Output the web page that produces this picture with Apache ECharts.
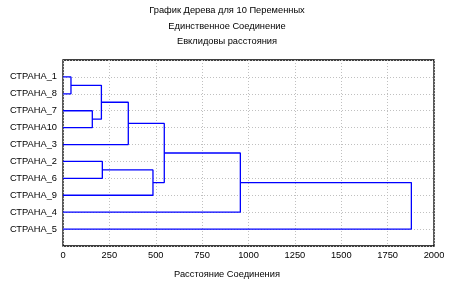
<!DOCTYPE html>
<html><head><meta charset="utf-8">
<script src="https://cdn.jsdelivr.net/npm/echarts@6/dist/echarts.min.js"></script>
<style>html,body{margin:0;padding:0;background:#fff}#c{width:454px;height:287px}</style>
</head><body><div id="c"></div>
<script>
const titleLines = ['График Дерева для 10 Переменных', 'Единственное Соединение', 'Евклидовы расстояния'];
const xAxisName = 'Расстояние Соединения';
const leaves = ['СТРАНА_1','СТРАНА_8','СТРАНА_7','СТРАНА10','СТРАНА_3','СТРАНА_2','СТРАНА_6','СТРАНА_9','СТРАНА_4','СТРАНА_5'];
// merges: [childA, childB, distance]; children: 'L<i>' leaf index or 'M<j>' merge index
const mergeA = ['L0','L2','M0','M2','L5','M4','M3','M6','M7'];
const mergeB = ['L1','L3','M1','L4','L6','L7','M5','L8','L9'];
const mergeDist = [43, 158, 207, 352, 212, 485, 546, 956, 1878];
const xTicks = [0, 250, 500, 750, 1000, 1250, 1500, 1750, 2000];

const font = 'Liberation Sans, Arial, sans-serif';
const fs = 9.3;
const pos = {}; const hgt = {};
leaves.forEach((n, i) => { pos['L' + i] = i + 1; hgt['L' + i] = 0; });
const series = [];
mergeDist.forEach((d, j) => {
  const a = mergeA[j], b = mergeB[j];
  pos['M' + j] = (pos[a] + pos[b]) / 2; hgt['M' + j] = d;
  series.push({
    type: 'line', silent: true, showSymbol: false, animation: false,
    lineStyle: { color: '#0000ff', width: 1.3 },
    data: [[hgt[a], pos[a]], [d, pos[a]], [d, pos[b]], [hgt[b], pos[b]]]
  });
});

const ts = { fontFamily: font, fontSize: fs, fontWeight: 'normal', color: '#000' };
const titles = titleLines.map((t, i) => ({ text: t, left: 'center', top: 6 + i * 15.5, padding: 0, textStyle: ts }));
titles.push({ text: xAxisName, left: 'center', top: 270, padding: 0, textStyle: ts });

const chart = echarts.init(document.getElementById('c'), null, { renderer: 'canvas' });
chart.setOption({
  animation: false,
  title: titles,
  grid: { left: 63, right: 20, top: 60, bottom: 41, show: true, borderColor: '#000', borderWidth: 1.3, backgroundColor: 'transparent' },
  xAxis: {
    type: 'value', min: 0, max: 2000, interval: 250,
    axisLine: { show: false }, axisTick: { show: false },
    axisLabel: { fontFamily: font, fontSize: fs, color: '#000', margin: 5,
      formatter: v => xTicks.includes(v) ? String(v) : '' },
    splitLine: { show: true, lineStyle: { color: '#c0c0c0', type: [1, 2], width: 1 } }
  },
  yAxis: {
    type: 'value', min: 0, max: leaves.length + 1, interval: 1, inverse: true,
    axisLine: { show: false }, axisTick: { show: false },
    axisLabel: { fontFamily: font, fontSize: fs, color: '#000', margin: 6, align: 'right',
      formatter: v => (v >= 1 && v <= leaves.length) ? leaves[v - 1] : '' },
    splitLine: { show: true, lineStyle: { color: '#c0c0c0', type: [1, 2], width: 1 } }
  },
  series: series
});
</script></body></html>
